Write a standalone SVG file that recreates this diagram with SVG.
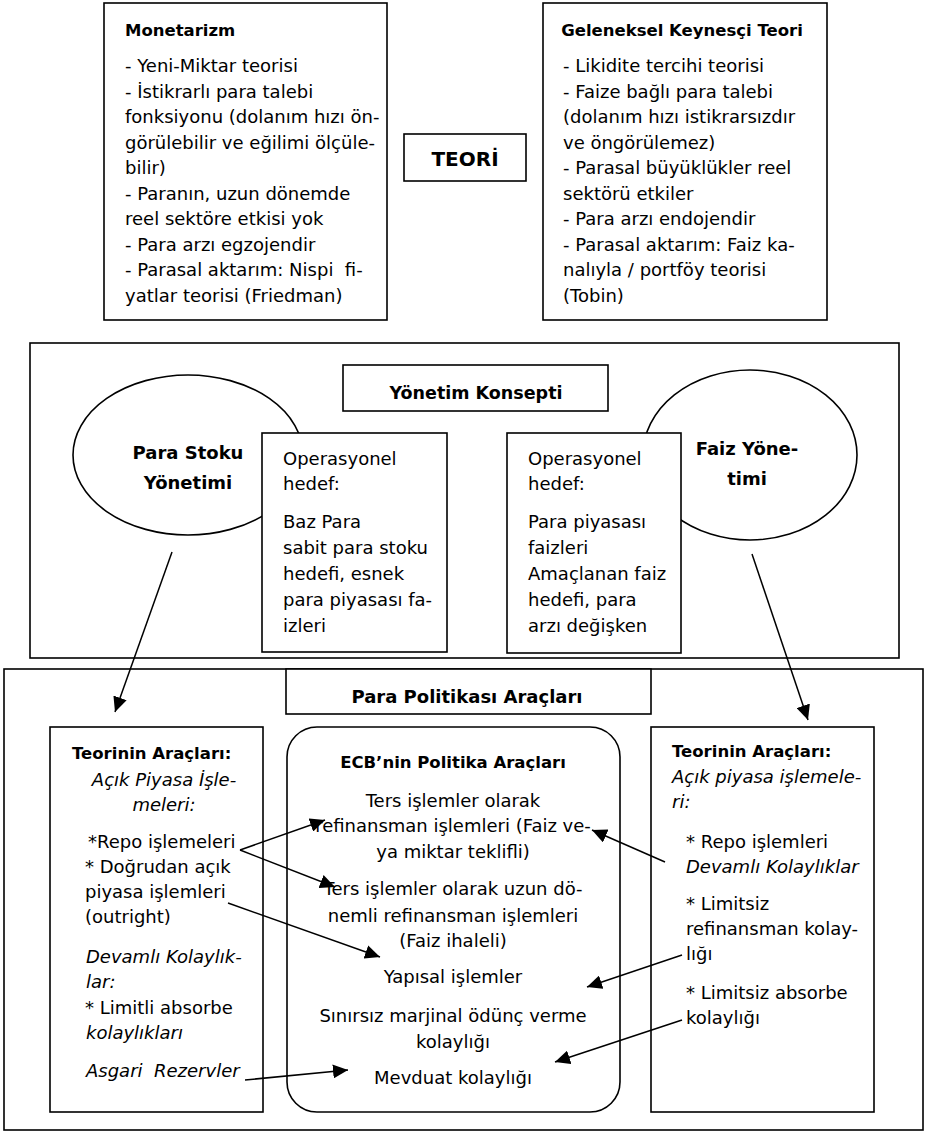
<svg xmlns="http://www.w3.org/2000/svg" width="926" height="1132" viewBox="0 0 926 1132">
<defs>
<marker id="ah" markerUnits="userSpaceOnUse" markerWidth="16" markerHeight="14" refX="15" refY="7" orient="auto"><path d="M0,0 L15,7 L0,14 z" fill="#000"/></marker>
<style>
rect,ellipse{fill:#fff;stroke:#000;stroke-width:1.6}
text{font-family:"DejaVu Sans","Liberation Sans",sans-serif;font-size:18px;fill:#000}
.b{font-weight:bold;font-size:16.5px}
.i{font-style:italic}
.m{text-anchor:middle}
.c line{stroke:#000;stroke-width:1.5;marker-end:url(#ah)}
</style>
</defs>
<rect width="926" height="1132" style="fill:#fff;stroke:none"/>

<g id="monetarizm">
<rect x="104" y="3" width="283" height="317"/>
<text x="125" y="36" class="b">Monetarizm</text>
<text x="125" y="72">- Yeni-Miktar teorisi</text>
<text x="125" y="97.5">- İstikrarlı para talebi</text>
<text x="125" y="123">fonksiyonu (dolanım hızı ön-</text>
<text x="125" y="148.5">görülebilir ve eğilimi ölçüle-</text>
<text x="125" y="174">bilir)</text>
<text x="125" y="199.5">- Paranın, uzun dönemde</text>
<text x="125" y="225">reel sektöre etkisi yok</text>
<text x="125" y="250.5">- Para arzı egzojendir</text>
<text x="125" y="276" xml:space="preserve">- Parasal aktarım: Nispi  fi-</text>
<text x="125" y="301.5">yatlar teorisi (Friedman)</text>
</g>

<g id="teori">
<rect x="404" y="134" width="122" height="47"/>
<text x="465" y="166" class="b m" style="font-size:20px">TEORİ</text>
</g>

<g id="keynes">
<rect x="543" y="3" width="284" height="317"/>
<text x="682" y="36" class="b m">Geleneksel Keynesçi Teori</text>
<text x="563" y="72">- Likidite tercihi teorisi</text>
<text x="563" y="97.5">- Faize bağlı para talebi</text>
<text x="563" y="123">(dolanım hızı istikrarsızdır</text>
<text x="563" y="148.5">ve öngörülemez)</text>
<text x="563" y="174">- Parasal büyüklükler reel</text>
<text x="563" y="199.5">sektörü etkiler</text>
<text x="563" y="225">- Para arzı endojendir</text>
<text x="563" y="250.5">- Parasal aktarım: Faiz ka-</text>
<text x="563" y="276">nalıyla / portföy teorisi</text>
<text x="563" y="301.5">(Tobin)</text>
</g>

<g id="yonetim-konsepti">
<rect x="30" y="343" width="869" height="315"/>
<rect x="343" y="365" width="265" height="46"/>
<text x="476" y="399" class="b m" style="font-size:17.5px">Yönetim Konsepti</text>
</g>

<g id="para-stoku">
<ellipse cx="188" cy="455" rx="115" ry="80"/>
<text x="188" y="459" class="b m" style="font-size:18px">Para Stoku</text>
<text x="188" y="489" class="b m" style="font-size:18px">Yönetimi</text>
</g>

<g id="faiz-yonetimi">
<ellipse cx="750" cy="455" rx="107" ry="85"/>
<text x="747" y="455" class="b m" style="font-size:18px">Faiz Yöne-</text>
<text x="747" y="485" class="b m" style="font-size:18px">timi</text>
</g>

<g id="op-hedef-1">
<rect x="262" y="433" width="185" height="219"/>
<text x="283" y="465">Operasyonel</text>
<text x="283" y="490">hedef:</text>
<text x="283" y="528">Baz Para</text>
<text x="283" y="554">sabit para stoku</text>
<text x="283" y="580">hedefi, esnek</text>
<text x="283" y="606">para piyasası fa-</text>
<text x="283" y="632">izleri</text>
</g>

<g id="op-hedef-2">
<rect x="507" y="433" width="174" height="220"/>
<text x="528" y="465">Operasyonel</text>
<text x="528" y="490">hedef:</text>
<text x="528" y="528">Para piyasası</text>
<text x="528" y="554">faizleri</text>
<text x="528" y="580">Amaçlanan faiz</text>
<text x="528" y="606">hedefi, para</text>
<text x="528" y="632">arzı değişken</text>
</g>

<g id="para-politikasi">
<rect x="4" y="669" width="919" height="461"/>
<rect x="286" y="669" width="365" height="45"/>
<text x="467" y="703" class="b m" style="font-size:18px">Para Politikası Araçları</text>
</g>

<g id="teori-araclari-sol">
<rect x="50" y="727" width="213" height="385"/>
<text x="72" y="759" class="b">Teorinin Araçları:</text>
<text x="164" y="786" class="i m">Açık Piyasa İşle-</text>
<text x="164" y="811" class="i m">meleri:</text>
<text x="88" y="848">*Repo işlemeleri</text>
<text x="85" y="873">* Doğrudan açık</text>
<text x="85" y="898">piyasa işlemleri</text>
<text x="85" y="923">(outright)</text>
<text x="86" y="963" class="i">Devamlı Kolaylık-</text>
<text x="86" y="988" class="i">lar:</text>
<text x="85" y="1014">* Limitli absorbe</text>
<text x="86" y="1039" class="i">kolaylıkları</text>
<text x="86" y="1077" class="i" xml:space="preserve">Asgari  Rezervler</text>
</g>

<g id="ecb-araclari">
<rect x="287" y="727" width="333" height="385" rx="30" ry="30"/>
<text x="453" y="768" class="b m">ECB’nin Politika Araçları</text>
<text x="453" y="807" class="m">Ters işlemler olarak</text>
<text x="453" y="832" class="m">refinansman işlemleri (Faiz ve-</text>
<text x="453" y="858" class="m">ya miktar teklifli)</text>
<text x="453" y="895" class="m">Ters işlemler olarak uzun dö-</text>
<text x="453" y="922" class="m">nemli refinansman işlemleri</text>
<text x="453" y="947" class="m">(Faiz ihaleli)</text>
<text x="453" y="983" class="m">Yapısal işlemler</text>
<text x="453" y="1022" class="m">Sınırsız marjinal ödünç verme</text>
<text x="453" y="1048" class="m">kolaylığı</text>
<text x="453" y="1084" class="m">Mevduat kolaylığı</text>
</g>

<g id="teori-araclari-sag">
<rect x="651" y="727" width="223" height="385"/>
<text x="672" y="757" class="b">Teorinin Araçları:</text>
<text x="672" y="783" class="i">Açık piyasa işlemele-</text>
<text x="672" y="808" class="i">ri:</text>
<text x="686" y="848">* Repo işlemleri</text>
<text x="686" y="873" class="i">Devamlı Kolaylıklar</text>
<text x="686" y="910">* Limitsiz</text>
<text x="686" y="935">refinansman kolay-</text>
<text x="686" y="960">lığı</text>
<text x="686" y="999">* Limitsiz absorbe</text>
<text x="686" y="1024">kolaylığı</text>
</g>

<g id="connectors" class="c">
<line x1="172" y1="552" x2="115" y2="712"/>
<line x1="752" y1="554" x2="808" y2="720"/>
<line x1="240" y1="850" x2="325" y2="820"/>
<line x1="240" y1="850" x2="335" y2="887"/>
<line x1="228" y1="903" x2="380" y2="957"/>
<line x1="245" y1="1080" x2="348" y2="1070"/>
<line x1="665" y1="862" x2="592" y2="830"/>
<line x1="682" y1="955" x2="587" y2="987"/>
<line x1="682" y1="1020" x2="555" y2="1062"/>
</g>
</svg>
